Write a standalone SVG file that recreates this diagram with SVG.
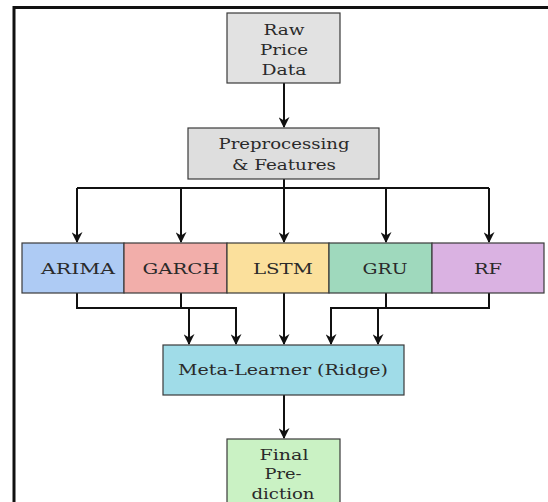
<svg xmlns="http://www.w3.org/2000/svg" width="548" height="502" viewBox="0 0 548 502">
<style>
.box{stroke:#3a3a3a;stroke-width:1.2}
.t{font-family:"DejaVu Serif","Liberation Serif",serif;font-size:15.5px;fill:#2a2a2a;text-anchor:middle}
.c{fill:none;stroke:#111;stroke-width:2}
</style>
<defs>
<marker id="ah" viewBox="0 0 10 10" refX="9" refY="5" markerWidth="5.5" markerHeight="5.5" markerUnits="strokeWidth" orient="auto">
<path d="M0,0 L10,5 L0,10 L3,5 Z" fill="#111"/>
</marker>
</defs>
<rect width="548" height="502" fill="#fff"/>
<path d="M14,502 V7.5 H548" fill="none" stroke="#111" stroke-width="3"/>
<g id="connectors">
<path class="c" d="M284,83 V127" marker-end="url(#ah)"/>
<path class="c" d="M284,179 V188 M77,188 H489"/>
<path class="c" d="M77,188 V242" marker-end="url(#ah)"/>
<path class="c" d="M181,188 V242" marker-end="url(#ah)"/>
<path class="c" d="M284,188 V242" marker-end="url(#ah)"/>
<path class="c" d="M386,188 V242" marker-end="url(#ah)"/>
<path class="c" d="M489,188 V242" marker-end="url(#ah)"/>
<path class="c" d="M77,293 V308 H236 V344" marker-end="url(#ah)"/>
<path class="c" d="M181,293 V308 H189 V344" marker-end="url(#ah)"/>
<path class="c" d="M284,293 V344" marker-end="url(#ah)"/>
<path class="c" d="M386,293 V308 H331 V344" marker-end="url(#ah)"/>
<path class="c" d="M489,293 V308 H378 V344" marker-end="url(#ah)"/>
<path class="c" d="M284,395 V438" marker-end="url(#ah)"/>
</g>
<g id="raw">
<rect class="box" x="227" y="13" width="113" height="70" fill="#e2e2e2"/>
<text class="t" x="284" y="35" textLength="41" lengthAdjust="spacingAndGlyphs">Raw</text>
<text class="t" x="284" y="55" textLength="48" lengthAdjust="spacingAndGlyphs">Price</text>
<text class="t" x="284" y="75" textLength="45" lengthAdjust="spacingAndGlyphs">Data</text>
</g>
<g id="preprocessing">
<rect class="box" x="188" y="128" width="191" height="51" fill="#dedede"/>
<text class="t" x="284" y="149" textLength="131" lengthAdjust="spacingAndGlyphs">Preprocessing</text>
<text class="t" x="284" y="170" textLength="104" lengthAdjust="spacingAndGlyphs">&amp; Features</text>
</g>
<g id="arima">
<rect class="box" x="22" y="243" width="102" height="50" fill="#aecbf4"/>
<text class="t" x="78" y="274" textLength="74" lengthAdjust="spacingAndGlyphs">ARIMA</text>
</g>
<g id="garch">
<rect class="box" x="124" y="243" width="103" height="50" fill="#f2aeaa"/>
<text class="t" x="181" y="274" textLength="77" lengthAdjust="spacingAndGlyphs">GARCH</text>
</g>
<g id="lstm">
<rect class="box" x="227" y="243" width="102" height="50" fill="#fbe09c"/>
<text class="t" x="283" y="274" textLength="60" lengthAdjust="spacingAndGlyphs">LSTM</text>
</g>
<g id="gru">
<rect class="box" x="329" y="243" width="103" height="50" fill="#9fd9bd"/>
<text class="t" x="385" y="274" textLength="45" lengthAdjust="spacingAndGlyphs">GRU</text>
</g>
<g id="rf">
<rect class="box" x="432" y="243" width="112" height="50" fill="#dab2e2"/>
<text class="t" x="488" y="274" textLength="28" lengthAdjust="spacingAndGlyphs">RF</text>
</g>
<g id="meta">
<rect class="box" x="163" y="345" width="241" height="50" fill="#a0dce8"/>
<text class="t" x="283" y="375" textLength="210" lengthAdjust="spacingAndGlyphs">Meta-Learner (Ridge)</text>
</g>
<g id="final">
<rect class="box" x="227" y="439" width="113" height="64" fill="#caf2c4"/>
<text class="t" x="284" y="460" textLength="49" lengthAdjust="spacingAndGlyphs">Final</text>
<text class="t" x="283" y="479" textLength="37" lengthAdjust="spacingAndGlyphs">Pre-</text>
<text class="t" x="283" y="499" textLength="63" lengthAdjust="spacingAndGlyphs">diction</text>
</g>
</svg>
